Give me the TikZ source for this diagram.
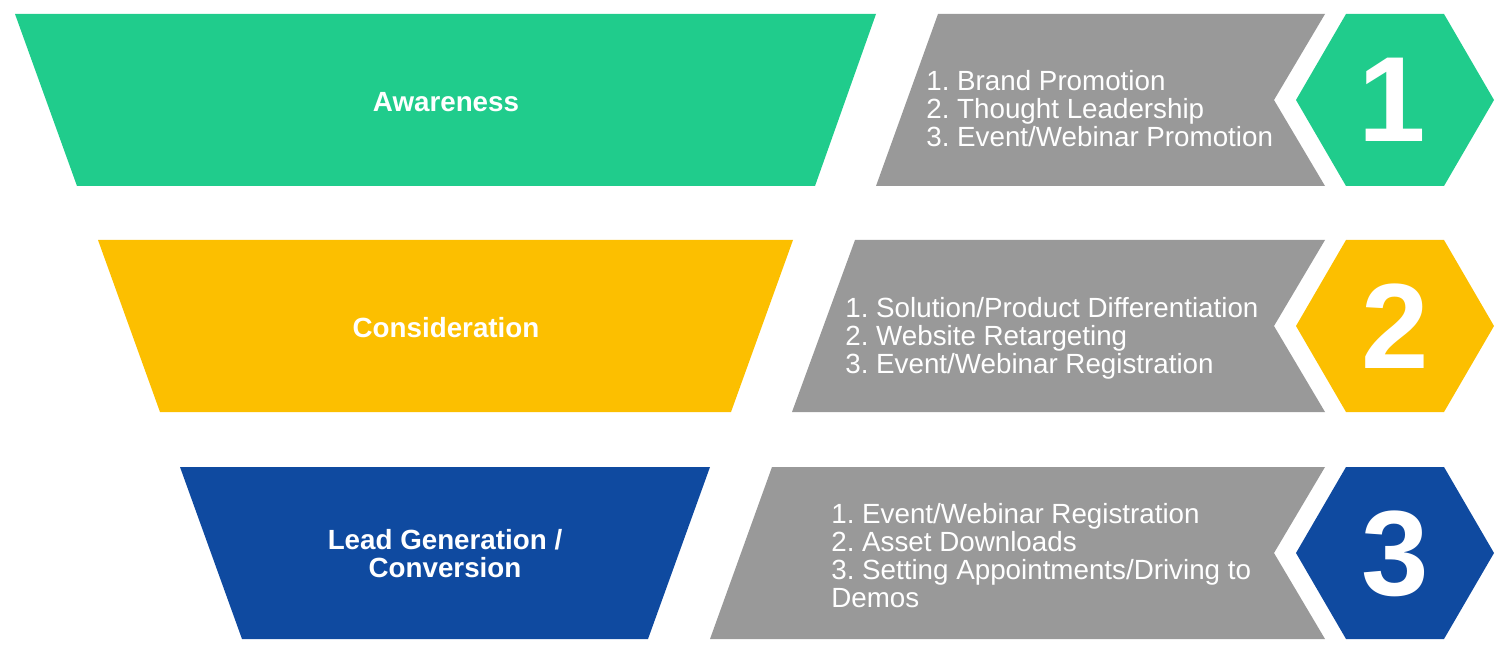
\documentclass[tikz,border=0pt]{standalone}
\usepackage{fontspec}
\setmainfont{Liberation Sans}
\usepackage{tikz}
\usetikzlibrary{positioning}
\frenchspacing

\definecolor{awaregreen}{RGB}{32,204,140}
\definecolor{considyellow}{RGB}{252,191,0}
\definecolor{leadblue}{RGB}{15,74,160}
\definecolor{panelgray}{RGB}{153,153,153}

\begin{document}
\begin{tikzpicture}[
        x=0.02cm, y=-0.02cm,
        funnel/.style={draw=none},
        panel/.style={fill=panelgray, draw=none},
        title/.style={text=white, font=\fontsize{15.8}{15.4}\selectfont\bfseries, align=center, inner sep=0pt},
        items/.style={text=white, font=\fontsize{15.8}{15.9}\selectfont, align=left, anchor=north west, inner sep=0pt},
        digit/.style={text=white, font=\fontsize{69}{69}\selectfont\bfseries, anchor=base, inner sep=0pt}
    ]
        \useasboundingbox (0,0) rectangle (1508,662);

        \fill[funnel, awaregreen] (15,14) -- (876,14) -- (815,186) -- (77,186) -- cycle;
        \fill[panel] (938,14) -- (1325,14) -- (1274,100) -- (1325,186) -- (876,186) -- cycle;
        \fill[funnel, awaregreen] (1296,100) -- (1346,14) -- (1444,14) -- (1494,100) -- (1444,186) -- (1346,186) -- cycle;

        \fill[funnel, considyellow] (98,240) -- (793,240) -- (731,412) -- (160,412) -- cycle;
        \fill[panel] (855,240) -- (1325,240) -- (1274,326) -- (1325,412) -- (792,412) -- cycle;
        \fill[funnel, considyellow] (1296,326) -- (1346,240) -- (1444,240) -- (1494,326) -- (1444,412) -- (1346,412) -- cycle;

        \fill[funnel, leadblue] (180,467) -- (710,467) -- (648,639) -- (242,639) -- cycle;
        \fill[panel] (772,467) -- (1325,467) -- (1274,553) -- (1325,639) -- (710,639) -- cycle;
        \fill[funnel, leadblue] (1296,553) -- (1346,467) -- (1444,467) -- (1494,553) -- (1444,639) -- (1346,639) -- cycle;

        \node[title, anchor=base] (awareness) at (446,111.5) {Awareness};
        \node[title, anchor=base] (consideration) at (446,337.5) {Consideration};
        \node[title, anchor=north] (leadgen) at (445,529.5) {Lead Generation /\\Conversion};

        \node[items] (awarelist) at (926,70) {1. Brand Promotion\\2. Thought Leadership\\3. Event/Webinar Promotion};
        \node[items] (considlist) at (845,297) {1. Solution/Product Differentiation\\2. Website Retargeting\\3. Event/Webinar Registration};
        \node[items] (leadlist) at (831,503) {1. Event/Webinar Registration\\2. Asset Downloads\\3. Setting Appointments/Driving to\\Demos};

        \node[digit] (stepone) at (1392,142) {1};
        \node[digit] (steptwo) at (1395,368) {2};
        \node[digit] (stepthree) at (1395,595) {3};
    \end{tikzpicture}
\end{document}
